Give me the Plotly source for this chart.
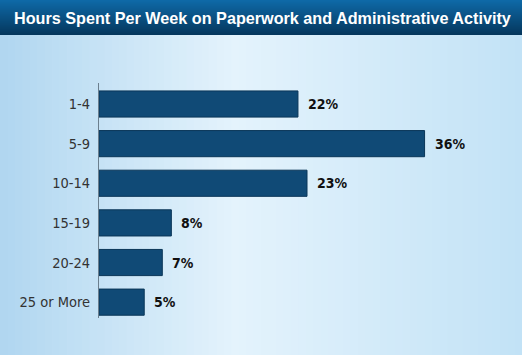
import plotly.graph_objects as go

categories = ["1-4", "5-9", "10-14", "15-19", "20-24", "25 or More"]
values = [22, 36, 23, 8, 7, 5]
value_labels = ["22%", "36%", "23%", "8%", "7%", "5%"]
title_text = "Hours Spent Per Week on Paperwork and Administrative Activity"

W, H = 522, 355
L, R, T, B = 99, 7, 83, 37
PW, PH = W - L - R, H - T - B
NARROW = "Liberation Sans Narrow, DejaVu Sans Condensed, Arial Narrow, sans-serif"

def lerp(c1, c2, t):
    return "rgb(%d,%d,%d)" % tuple(round(a + (b - a) * t) for a, b in zip(c1, c2))

def px_x(p):  # page px -> paper x
    return (p - L) / PW

def px_y(p):  # page px (from top) -> paper y
    return (H - B - p) / PH

shapes = []
# background horizontal gradient across whole page
left_c, mid_c, right_c = (176, 214, 240), (228, 243, 252), (194, 226, 246)
N = 70
for i in range(N):
    t = (i + 0.5) / N
    if t < 0.45:
        c = lerp(left_c, mid_c, t / 0.45)
    else:
        c = lerp(mid_c, right_c, (t - 0.45) / 0.55)
    shapes.append(dict(type="rect", xref="paper", yref="paper", layer="below",
                       x0=px_x(W * i / N), x1=px_x(W * (i + 1) / N + 0.6),
                       y0=px_y(H), y1=px_y(0),
                       fillcolor=c, line=dict(width=0)))

# title bar vertical gradient
M = 35
top_c, bot_c = (14, 106, 168), (5, 54, 92)
for i in range(M):
    t = (i + 0.5) / M
    shapes.append(dict(type="rect", xref="paper", yref="paper", layer="above",
                       x0=px_x(0), x1=px_x(W),
                       y0=px_y(i + 1.05), y1=px_y(i),
                       fillcolor=lerp(top_c, bot_c, t), line=dict(width=0)))

fig = go.Figure()
fig.add_trace(go.Bar(
    y=categories, x=values, orientation="h",
    marker=dict(color="#104a76", line=dict(color="#0a3658", width=1)),
    width=0.66, hoverinfo="skip",
))

annotations = []
for cat, v, lab in zip(categories, values, value_labels):
    annotations.append(dict(x=v, y=cat, xref="x", yref="y", text=lab,
                            showarrow=False, xanchor="left", xshift=8,
                            font=dict(family=NARROW, size=14, color="#111111",
                                      weight="bold")))
annotations.append(dict(x=px_x(W / 2 + 1), y=px_y(17.5), xref="paper", yref="paper",
                        text=title_text, showarrow=False,
                        xanchor="center", yanchor="middle",
                        font=dict(family="Liberation Sans, Arial, sans-serif",
                                  size=16.2, color="white", weight="bold")))

fig.update_layout(
    width=W, height=H,
    margin=dict(l=L, r=R, t=T, b=B, pad=0, autoexpand=False),
    paper_bgcolor="#d6ebf8", plot_bgcolor="rgba(0,0,0,0)",
    showlegend=False,
    shapes=shapes,
    annotations=annotations,
    xaxis=dict(range=[0, 46], visible=False, fixedrange=True),
    yaxis=dict(autorange=False, range=[5.4, -0.53], showgrid=False,
               automargin=False,
               showline=True, linecolor="#6b7f8e", linewidth=1,
               ticks="", ticklabelstandoff=5,
               tickfont=dict(family=NARROW, size=14.5, color="#333333")),
)

fig.write_html("out.html", config={"displayModeBar": False},
               post_script="document.body.style.margin='0';")
